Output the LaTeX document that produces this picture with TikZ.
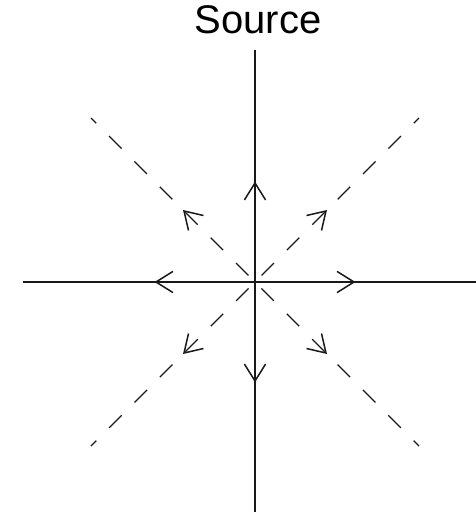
\documentclass[tikz,border=0pt]{standalone}
\usepackage{fontspec}
\setmainfont{Liberation Sans}
\usetikzlibrary{calc}
\begin{document}
\begin{tikzpicture}[x=1pt,y=-1pt,
  axis/.style={line width=1.4pt, draw=black!90},
  diag/.style={axis, dash pattern=on 17.6pt off 18.3pt, dash phase=10.3pt},
  head/.style={line width=1.5pt, draw=black!90, line join=miter}]
\useasboundingbox (0,0) rectangle (476,517);
\coordinate (O) at (255,282);
\coordinate (top) at (255,50);
\coordinate (bot) at (255,512);
\coordinate (lft) at (23,282);
\coordinate (rgt) at (476,282);
\coordinate (nw) at (91,118);
\coordinate (se) at (419,446);
\coordinate (ne) at (419,118);
\coordinate (sw) at (91,446);
\node[font=\fontsize{40}{42}\selectfont, anchor=base, inner sep=0pt] (title) at (258,33) {Source};
\draw[axis] (top) -- (bot);
\draw[axis] (lft) -- (rgt);
\draw[diag] (nw) -- (se);
\draw[diag] (ne) -- (sw);
\coordinate (tN) at (255,183);
\coordinate (tS) at (255,381);
\coordinate (tW) at (156,282);
\coordinate (tE) at (354,282);
\coordinate (tNW) at (184,211);
\coordinate (tNE) at (326,211);
\coordinate (tSW) at (184,353);
\coordinate (tSE) at (326,353);
\foreach \t in {tN,tS,tW,tE,tNW,tNE,tSW,tSE}
  \draw[head] ($(\t)!20pt!32:(O)$) -- (\t) -- ($(\t)!20pt!-32:(O)$);
\end{tikzpicture}
\end{document}
